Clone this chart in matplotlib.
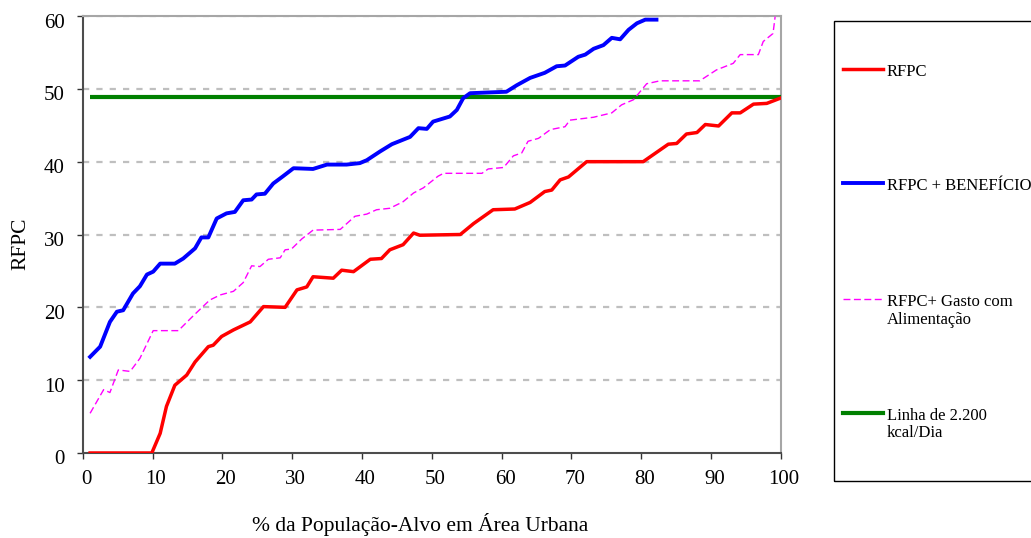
import matplotlib
matplotlib.use("Agg")
import matplotlib.pyplot as plt
from matplotlib.lines import Line2D
from matplotlib.patches import Rectangle
from matplotlib.transforms import ScaledTranslation

plt.rcParams['font.family'] = ['Liberation Serif', 'DejaVu Serif']

# --- data ---
rfpc_x = [1.06, 9.9, 11.1, 12.0, 13.2, 14.9, 16.1, 18.0, 18.7, 19.9, 21.6, 24.0, 25.9, 29.0, 30.7,
          32.1, 33.0, 35.9, 37.1, 38.8, 41.2, 42.8, 44.0, 45.9, 47.4, 48.3, 54.1, 56.0, 58.8, 61.9,
          64.1, 66.2, 67.2, 68.4, 69.6, 72.2, 80.3, 82.7, 83.9, 85.1, 86.5, 88.0, 89.2, 91.1, 93.0,
          94.2, 96.1, 98.0, 99.9]
rfpc_y = [0.0, 0.0, 2.7, 6.4, 9.3, 10.7, 12.5, 14.6, 14.8, 16.0, 16.9, 18.0, 20.1, 20.0, 22.4,
          22.8, 24.2, 24.0, 25.1, 24.9, 26.6, 26.7, 27.9, 28.6, 30.2, 29.9, 30.0, 31.5, 33.4, 33.5,
          34.4, 35.9, 36.1, 37.5, 37.9, 40.0, 40.0, 41.6, 42.4, 42.5, 43.8, 44.0, 45.1, 44.9, 46.7,
          46.7, 47.9, 48.0, 48.7]

ben_x = [1.06, 2.5, 3.9, 4.9, 5.8, 7.2, 8.2, 9.2, 10.1, 11.1, 13.2, 14.4, 16.1, 17.0, 18.0, 19.2,
         20.6, 21.8, 23.0, 24.2, 24.9, 26.1, 27.3, 28.7, 30.2, 33.0, 35.0, 37.8, 39.7, 40.7, 42.6,
         44.3, 46.9, 48.1, 49.3, 50.2, 52.6, 53.6, 54.5, 55.5, 60.7, 62.2, 64.1, 66.2, 67.9, 69.1,
         71.0, 72.0, 73.2, 74.6, 75.8, 77.0, 78.2, 79.4, 80.6, 82.2]
ben_y = [13.2, 14.6, 18.0, 19.4, 19.6, 21.9, 22.9, 24.5, 24.9, 26.0, 26.0, 26.7, 28.1, 29.6, 29.6,
         32.2, 32.9, 33.1, 34.7, 34.8, 35.5, 35.6, 37.0, 38.0, 39.1, 39.0, 39.6, 39.6, 39.8, 40.2,
         41.4, 42.4, 43.4, 44.6, 44.5, 45.5, 46.2, 47.1, 48.7, 49.4, 49.6, 50.5, 51.5, 52.2, 53.1,
         53.2, 54.4, 54.7, 55.5, 56.0, 57.0, 56.8, 58.1, 59.0, 59.5, 59.5]

gasto_x = [1.06, 3.0, 3.9, 5.1, 6.8, 8.2, 10.1, 13.7, 15.8, 18.2, 19.7, 21.6, 23.0, 24.2, 25.4,
           26.6, 28.3, 29.0, 29.9, 31.4, 33.0, 36.9, 39.0, 40.7, 42.1, 44.0, 45.9, 47.4, 48.8,
           50.9, 51.7, 57.2, 58.1, 60.3, 61.7, 62.9, 63.8, 65.3, 67.0, 69.1, 69.8, 73.2, 75.8,
           77.2, 78.9, 80.8, 82.7, 88.4, 90.8, 93.2, 94.2, 96.8, 97.5, 98.9, 99.2]
gasto_y = [5.45, 8.7, 8.3, 11.4, 11.2, 13.0, 16.8, 16.8, 18.8, 21.0, 21.7, 22.2, 23.4, 25.7, 25.6,
           26.6, 26.8, 27.9, 28.0, 29.4, 30.6, 30.7, 32.5, 32.8, 33.4, 33.6, 34.5, 35.7, 36.4,
           38.0, 38.4, 38.4, 39.0, 39.2, 40.8, 41.2, 42.8, 43.2, 44.4, 44.8, 45.7, 46.1, 46.7,
           47.8, 48.5, 50.7, 51.1, 51.1, 52.6, 53.5, 54.7, 54.7, 56.5, 57.6, 59.9]

linha_x = [1.06, 100]
linha_y = [48.9, 48.9]

x_ticks = [0, 10, 20, 30, 40, 50, 60, 70, 80, 90, 100]
y_ticks = [0, 10, 20, 30, 40, 50, 60]

legend_labels = ["RFPC", "RFPC + BENEFÍCIO", "RFPC+ Gasto com\nAlimentação", "Linha de 2.200\nkcal/Dia"]

W, H = 1031, 538
fig = plt.figure(figsize=(W / 100, H / 100), dpi=100)
ax = fig.add_axes([82.7 / W, 1 - 453 / H, (780.7 - 82.7) / W, (453 - 16) / H])

for yv in y_ticks[1:]:
    ax.axhline(yv, color='#bfbfbf', lw=1.6, linestyle=(0, (2.8, 3.2)), zorder=1)

ax.plot(linha_x, linha_y, color='#008000', lw=3.0, zorder=3, solid_capstyle='butt')
ax.plot(gasto_x, gasto_y, color='#FF00FF', lw=1.0, linestyle=(0, (5, 2.5)), zorder=3)
ax.plot(ben_x, ben_y, color='#0000FF', lw=2.8, zorder=4)
ax.plot(rfpc_x, rfpc_y, color='#FF0000', lw=2.5, zorder=5)

ax.set_xlim(0, 100)
ax.set_ylim(0, 60)
ax.set_xticks(x_ticks)
ax.set_yticks(y_ticks)
ax.tick_params(axis='both', labelsize=15, length=4, width=1, color='#333333')
ax.tick_params(axis='y', pad=9)
ax.tick_params(axis='x', pad=8)

dy = ScaledTranslation(0, -0.045, fig.dpi_scale_trans)
dx = ScaledTranslation(0.035, 0, fig.dpi_scale_trans)
for lbl in ax.get_yticklabels():
    lbl.set_transform(lbl.get_transform() + dy)
for lbl in ax.get_xticklabels():
    lbl.set_transform(lbl.get_transform() + dx)

for s in ['left', 'bottom']:
    ax.spines[s].set_color('#4d4d4d')
    ax.spines[s].set_linewidth(1.5)
for s in ['top', 'right']:
    ax.spines[s].set_color('#a6a6a6')
    ax.spines[s].set_linewidth(1.5)

fig.text(21 / W, 1 - 244 / H, "RFPC", rotation=90, fontsize=15.5, ha='center', va='center')
fig.text(420 / W, 1 - 525 / H, "% da População-Alvo em Área Urbana", fontsize=15.5,
         ha='center', va='center')

# legend box (extends past the right edge, as in the reference)
fig.patches.append(Rectangle((834 / W, 1 - 481 / H), 300 / W, (481 - 21) / H,
                             transform=fig.transFigure, fill=False, edgecolor='black', lw=1))
leg_styles = [dict(color='#FF0000', lw=2.5),
              dict(color='#0000FF', lw=2.8),
              dict(color='#FF00FF', lw=1.0, linestyle=(0, (5, 2.5))),
              dict(color='#008000', lw=3.0)]
leg_y = [69.3, 182.7, 299.3, 413.0]
for lab, st, yy in zip(legend_labels, leg_styles, leg_y):
    yf = 1 - yy / H
    fig.lines.append(Line2D([843 / W, 883 / W], [yf, yf], transform=fig.transFigure, **st))
    fig.text(887 / W, 1 - (yy - 5) / H, lab, fontsize=12, ha='left', va='top',
             linespacing=1.1)

fig.savefig("out.png", dpi=100)
